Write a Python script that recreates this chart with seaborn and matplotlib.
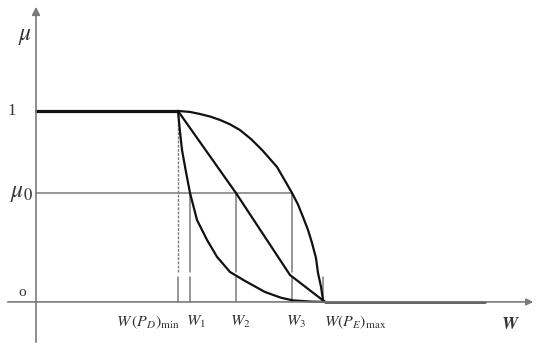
import pandas as pd
import seaborn as sns
import matplotlib.pyplot as plt

# Membership curves (W in arbitrary units, mu in 0..1)
w_min, w1, w2, w3, w_max = 1.42, 1.54, 2.00, 2.56, 2.89
mu0 = 0.57

upper_w = [1.42, 1.54, 1.64, 1.74, 1.84, 1.94, 2.04, 2.15, 2.26, 2.41, 2.56, 2.62, 2.67,
           2.72, 2.76, 2.80, 2.82, 2.85, 2.87, 2.89]
upper_mu = [1.0, 0.995, 0.984, 0.971, 0.953, 0.93, 0.90, 0.853, 0.796, 0.707, 0.571, 0.51,
            0.445, 0.377, 0.309, 0.23, 0.152, 0.08, 0.010, 0.0]

line_w = [1.42, 2.00, 2.54, 2.89]
line_mu = [1.0, 0.57, 0.141, 0.0]

lower_w = [1.42, 1.44, 1.46, 1.50, 1.54, 1.61, 1.71, 1.81, 1.94, 2.09, 2.29, 2.45, 2.57,
           2.75, 2.89]
lower_mu = [1.0, 0.89, 0.796, 0.68, 0.571, 0.429, 0.325, 0.236, 0.157, 0.110, 0.052,
            0.022, 0.008, 0.002, 0.0]

flat_w = [0.0, 1.42]
flat_mu = [1.0, 1.0]
tail_w = [2.89, 4.49]
tail_mu = [0.0, 0.0]

tick_pos = [1.12, 1.60, 2.04, 2.60, 3.19]
tick_labels = [r'$W\,(P_D)_{\rm min}$', r'$W_1$', r'$W_2$', r'$W_3$', r'$W(P_E)_{\rm max}$']

sns.set_style("white")
plt.rcParams['mathtext.fontset'] = 'stix'
plt.rcParams['font.family'] = ['Liberation Serif', 'DejaVu Serif']

fig = plt.figure(figsize=(5.38, 3.6), dpi=100)
ax = fig.add_axes([0, 0, 1, 1])
ax.set_xlim(-0.36, 5.02)
ax.set_ylim(-0.304, 1.581)
ax.axis('off')

grey = '#7a7a7a'

# axes with arrows
ax.annotate('', xy=(0, 1.56), xytext=(0, -0.225),
            arrowprops=dict(arrowstyle='-|>', color=grey, lw=1.2, mutation_scale=12))
ax.annotate('', xy=(5.0, 0), xytext=(-0.31, 0),
            arrowprops=dict(arrowstyle='-|>', color=grey, lw=1.2, mutation_scale=10))

# mu0 guide and vertical guides
ax.plot([0, w3], [mu0, mu0], color=grey, lw=1.1)
ax.plot([w_min, w_min], [1.0, 0.157], color=grey, lw=1.0, ls=(0, (2, 1)))
ax.plot([w_min, w_min], [0.131, 0.0], color=grey, lw=1.1)
for x in [w1, w2, w3]:
    ax.plot([x, x], [mu0, 0.157], color=grey, lw=1.1)
    ax.plot([x, x], [0.131, 0.0], color=grey, lw=1.1)
ax.plot([w_max - 0.02, w_max - 0.02], [0.131, 0.0], color=grey, lw=1.1)

# curves
for xs, ys in [(upper_w, upper_mu), (line_w, line_mu), (lower_w, lower_mu)]:
    df = pd.DataFrame({'W': xs, 'mu': ys})
    sns.lineplot(data=df, x='W', y='mu', ax=ax, color='#111111', lw=1.6,
                 estimator=None, sort=False)
sns.lineplot(x=flat_w, y=flat_mu, ax=ax, color='#111111', lw=2.3, estimator=None)
sns.lineplot(x=tail_w, y=tail_mu, ax=ax, color='#333333', lw=1.8, estimator=None)

# labels
ax.text(-0.11, 1.39, r'$\mu$', fontsize=17, ha='center', va='center', color='#333')
ax.text(-0.24, 1.0, '1', fontsize=12, ha='center', va='center', color='#333')
ax.text(-0.14, 0.57, r'$\mu_0$', fontsize=17, ha='center', va='center', color='#333')
ax.text(-0.14, 0.05, 'o', fontsize=11, ha='center', va='center', color='#333')
for x, t in zip(tick_pos, tick_labels):
    ax.text(x, -0.105, t, fontsize=11.5, ha='center', va='center', color='#333')
ax.text(4.74, -0.12, r'$\boldsymbol{W}$', fontsize=13, ha='center', va='center', color='#333')

fig.savefig('out.png', dpi=100)
